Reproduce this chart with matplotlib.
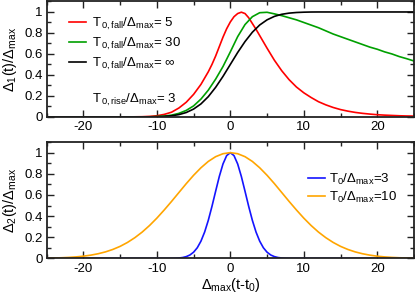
import numpy as np
import matplotlib
matplotlib.use("Agg")
import matplotlib.pyplot as plt
from matplotlib.ticker import MultipleLocator, FormatStrFormatter

plt.rcParams['font.family'] = ['Liberation Sans', 'DejaVu Sans']
plt.rcParams['mathtext.fontset'] = 'custom'
plt.rcParams['mathtext.rm'] = 'Liberation Sans'
plt.rcParams['mathtext.it'] = 'Liberation Sans'
plt.rcParams['mathtext.bf'] = 'Liberation Sans:bold'
plt.rcParams['axes.unicode_minus'] = False

# Valores (painel de cima)
x_top = list(range(-25, 26))
x_red = ([float(v) for v in range(-25, -3)] +
         [-3, -2.5, -2, -1.5, -1, -0.5, 0, 0.5, 1, 1.5, 2, 2.5, 3, 3.5, 4] +
         [float(v) for v in range(5, 26)])
delta1_fall5 = [0, 0, 0, 0, 0, 0, 0, 0, 0, 0, 0, 0, 0.001,
                0.002, 0.005, 0.011, 0.024, 0.045, 0.085, 0.14, 0.215, 0.31,
                0.43, 0.50, 0.58, 0.67, 0.76, 0.84, 0.905, 0.955, 0.985, 0.998, 0.985, 0.945,
                0.89, 0.835, 0.775,
                0.655, 0.54, 0.44, 0.355, 0.285, 0.23, 0.185, 0.145,
                0.115, 0.09, 0.07, 0.055, 0.043, 0.034, 0.027, 0.021, 0.017, 0.014, 0.011, 0.009, 0.008]
delta1_fall30 = [0, 0, 0, 0, 0, 0, 0, 0, 0, 0, 0, 0, 0,
                 0.0004, 0.0012, 0.0035, 0.008, 0.017, 0.034, 0.062, 0.105, 0.17, 0.255, 0.36, 0.48,
                 0.62,
                 0.765, 0.88, 0.955, 0.993, 0.997, 0.982, 0.965, 0.945, 0.925, 0.90, 0.875, 0.85,
                 0.82, 0.79, 0.765, 0.74, 0.715, 0.69, 0.665, 0.645, 0.62, 0.60, 0.575, 0.555, 0.533]
delta1_fallinf = [0, 0, 0, 0, 0, 0, 0, 0, 0, 0, 0, 0, 0,
                  0, 0.0004, 0.002, 0.005, 0.011, 0.022, 0.042, 0.075, 0.124, 0.193, 0.282, 0.386,
                  0.5,
                  0.614, 0.718, 0.807, 0.876, 0.925, 0.958, 0.978, 0.989, 0.995, 0.998, 0.9996, 1.0,
                  1.0, 1.0, 1.0, 1.0, 1.0, 1.0, 1.0, 1.0, 1.0, 1.0, 1.0, 1.0, 1.0]

# Painel de baixo
x_t10 = list(range(-25, 26))
delta2_t10 = [0.0024, 0.0039, 0.0061, 0.0094, 0.0142, 0.0211, 0.0308, 0.044, 0.0616, 0.0847,
              0.114, 0.151, 0.196, 0.249, 0.311, 0.381, 0.458, 0.539, 0.623, 0.707, 0.786,
              0.857, 0.917, 0.962, 0.990,
              1.0,
              0.990, 0.962, 0.917, 0.857, 0.786, 0.707, 0.623, 0.539, 0.458, 0.381, 0.311,
              0.249, 0.196, 0.151, 0.114, 0.0847, 0.0616, 0.044, 0.0308, 0.0211, 0.0142,
              0.0094, 0.0061, 0.0039, 0.0024]
x_t3 = [-25, -8, -7.5, -7, -6.5, -6, -5.5, -5, -4.5, -4, -3.5, -3, -2.5, -2, -1.5, -1, -0.5,
        0, 0.5, 1, 1.5, 2, 2.5, 3, 3.5, 4, 4.5, 5, 5.5, 6, 6.5, 7, 7.5, 8, 25]
delta2_t3 = [0, 0.0007, 0.0017, 0.0039, 0.0083, 0.0169, 0.0324, 0.0588, 0.1007, 0.163, 0.249,
             0.36, 0.492, 0.635, 0.775, 0.893, 0.972,
             1.0,
             0.972, 0.893, 0.775, 0.635, 0.492, 0.36, 0.249, 0.163, 0.1007, 0.0588, 0.0324,
             0.0169, 0.0083, 0.0039, 0.0017, 0.0007, 0]

fig = plt.figure(figsize=(4.15, 2.96), dpi=100)
ax1 = fig.add_axes([0.1125, 0.605, 0.885, 0.39])
ax2 = fig.add_axes([0.1125, 0.127, 0.885, 0.393])

lw = 1.2
fs = 9.5
ax1.plot(x_red, delta1_fall5, color="#ff0000", lw=lw, label=r"$T_{\,0,fall}/\Delta_{max}$= 5")
ax1.plot(x_top, delta1_fall30, color="#00a000", lw=lw, label=r"$T_{\,0,fall}/\Delta_{max}$= 30")
ax1.plot(x_top, delta1_fallinf, color="black", lw=lw, label=r"$T_{\,0,fall}/\Delta_{max}$= $\infty$")
ax1.text(0.123, 0.12, r"$T_{\,0,rise}/\Delta_{max}$= 3", transform=ax1.transAxes,
         fontsize=fs, va="baseline")
ax1.legend(loc="upper left", bbox_to_anchor=(0.06, 0.875), frameon=False, fontsize=fs,
           handlelength=1.3, handletextpad=0.5, labelspacing=0.3, borderpad=0, borderaxespad=0)
ax1.set_ylabel(r"$\Delta_1(t)/\Delta_{max}$", fontsize=10.5)

ax2.plot(x_t3, delta2_t3, color="#1414ff", lw=lw, label=r"$T_0/\Delta_{max}$=3")
ax2.plot(x_t10, delta2_t10, color="#ffa500", lw=lw, label=r"$T_0/\Delta_{max}$=10")
ax2.legend(loc="upper left", bbox_to_anchor=(0.712, 0.745), frameon=False, fontsize=fs,
           handlelength=1.3, handletextpad=0.3, labelspacing=0.2, borderpad=0, borderaxespad=0)
ax2.set_ylabel(r"$\Delta_2(t)/\Delta_{max}$", fontsize=10.5)
ax2.set_xlabel(r"$\Delta_{max}(t$-$t_0)$", fontsize=10.5, labelpad=1)

for ax in (ax1, ax2):
    ax.set_xlim(-25, 25)
    ax.set_ylim(0, 1.1)
    ax.xaxis.set_major_locator(MultipleLocator(10))
    ax.xaxis.set_minor_locator(MultipleLocator(5))
    ax.yaxis.set_major_locator(MultipleLocator(0.2))
    ax.yaxis.set_minor_locator(MultipleLocator(0.1))
    ax.yaxis.set_major_formatter(FormatStrFormatter("%g"))
    ax.tick_params(which="both", direction="in", top=True, right=True, labelsize=9.5,
                   width=1, color="#222222", pad=3)
    ax.tick_params(which="major", length=5)
    ax.tick_params(which="minor", length=3)
    for s in ax.spines.values():
        s.set_linewidth(1.3)
        s.set_color("#222222")
    ax.yaxis.set_label_coords(-0.075, 0.5)

fig.savefig("out.png", dpi=100)
